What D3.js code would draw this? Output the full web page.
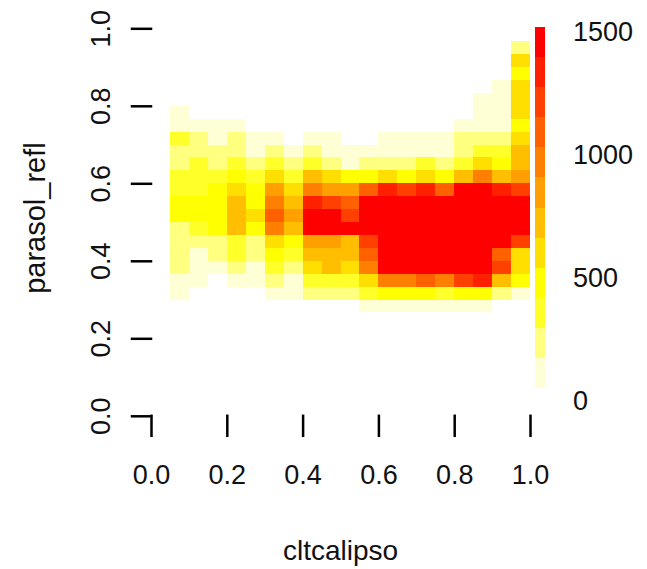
<!DOCTYPE html>
<html><head><meta charset="utf-8">
<script src="https://cdn.jsdelivr.net/npm/d3@7"></script>
<style>
body{margin:0;background:#fff}
svg{display:block}
text{font-family:"Liberation Sans",Arial,Helvetica,sans-serif;fill:#111}
</style>
</head><body>
<svg id="chart" width="647" height="569"></svg>
<script>
// ---- data ----
const xEdges = [0.05,0.10,0.15,0.20,0.25,0.30,0.35,0.40,0.45,0.50,0.55,0.60,0.65,0.70,0.75,0.80,0.85,0.90,0.95,1.00];
const yEdges = [0.2667,0.3,0.3333,0.3667,0.4,0.4333,0.4667,0.5,0.5333,0.5667,0.6,0.6333,0.6667,0.7,0.7333,0.7667,0.8,0.8333,0.8667,0.9,0.9333,0.9667];
const n = null;
// rows listed from the top bin (0.9333-0.9667) down to the bottom bin (0.2667-0.3)
const countsTopDown = [
  [n,n,n,n,n,n,n,n,n,n,n,n,n,n,n,n,n,n,240],
  [n,n,n,n,n,n,n,n,n,n,n,n,n,n,n,n,n,n,600],
  [n,n,n,n,n,n,n,n,n,n,n,n,n,n,n,n,n,n,470],
  [n,n,n,n,n,n,n,n,n,n,n,n,n,n,n,n,n,110,590],
  [n,n,n,n,n,n,n,n,n,n,n,n,n,n,n,n,95,130,615],
  [120,n,n,n,n,n,n,n,n,n,n,n,n,n,n,n,100,145,580],
  [130,125,110,140,n,n,n,n,n,n,n,n,n,n,n,120,150,160,500],
  [350,230,150,250,140,130,n,150,120,n,n,110,130,140,155,220,250,260,630],
  [260,240,230,255,160,270,150,280,165,140,150,160,155,150,170,260,330,340,720],
  [280,370,270,390,270,380,260,400,285,165,250,240,260,360,270,380,610,500,740],
  [360,380,400,470,350,620,390,700,590,450,480,570,500,600,520,720,980,740,860],
  [330,370,480,580,500,840,600,960,870,830,1090,1320,1230,1340,1100,1460,1480,1310,1200],
  [470,490,510,740,460,990,700,1350,1220,1080,1430,1470,1490,1500,1460,1480,1470,1440,1450],
  [480,500,520,760,610,1120,860,1450,1480,1190,1460,1500,1510,1505,1519,1500,1490,1470,1430],
  [260,360,470,720,460,1000,730,1420,1470,1440,1480,1500,1510,1500,1490,1500,1480,1460,1410],
  [230,220,250,340,240,630,480,880,850,720,1210,1460,1490,1480,1470,1460,1450,1420,1190],
  [210,160,240,370,230,510,350,760,740,700,1100,1440,1470,1480,1460,1450,1430,1070,600],
  [200,150,140,250,160,330,230,590,680,610,960,1420,1460,1470,1450,1440,1410,1180,580],
  [120,110,n,140,130,220,150,350,360,340,580,940,1000,1090,970,1230,1300,720,480],
  [100,n,n,n,n,120,140,230,260,240,380,490,510,470,370,460,500,230,130],
  [n,n,n,n,n,n,n,n,n,n,54,130,140,150,135,145,120,n,n]
];
const xTicks = [0,0.2,0.4,0.6,0.8,1.0];
const yTicks = [0,0.2,0.4,0.6,0.8,1.0];
const legendTicks = [0,500,1000,1500];
const palette = ["#FFFFD5","#FFFF80","#FFFF2A","#FFFF00","#FFDF00","#FFBF00","#FF9F00","#FF8000","#FF6000","#FF4000","#FF2000","#FF0000"];
const xTitle = "cltcalipso";
const yTitle = "parasol_refl";

// ---- drawing ----
const svg = d3.select("#chart");
const x = d3.scaleLinear().domain([0,1]).range([151,530]);
const y = d3.scaleLinear().domain([0,1]).range([415.8,28.3]);

const rowsBottomUp = countsTopDown.slice().reverse();
const cells = [];
rowsBottomUp.forEach((row,j)=>row.forEach((v,i)=>{
  if(v!==null) cells.push({x0:xEdges[i],x1:xEdges[i+1],y0:yEdges[j],y1:yEdges[j+1],v});
}));
const allVals = cells.map(d=>d.v);
const zExt = d3.extent(allVals);
const color = d3.scaleQuantize().domain(zExt).range(palette);

svg.append("g").attr("shape-rendering","crispEdges")
  .selectAll("rect").data(cells).join("rect")
  .attr("x",d=>x(d.x0)).attr("width",d=>x(d.x1)-x(d.x0))
  .attr("y",d=>y(d.y1)).attr("height",d=>y(d.y0)-y(d.y1))
  .attr("fill",d=>color(d.v));

// axes
const fmt = d3.format(".1f");
const gx = svg.append("g").attr("transform",`translate(0,${y(0)})`)
  .call(d3.axisBottom(x).tickValues(xTicks).tickFormat(fmt).tickSize(20).tickPadding(29));
gx.select(".domain").remove();
gx.selectAll("line").attr("stroke","#000").attr("stroke-width",2.5).attr("stroke-linecap","square");
gx.selectAll("text").attr("font-size",27).attr("fill","#111");

const gy = svg.append("g").attr("transform",`translate(${x(0)},0)`)
  .call(d3.axisLeft(y).tickValues(yTicks).tickFormat(fmt).tickSize(19));
gy.select(".domain").remove();
gy.selectAll("line").attr("stroke","#000").attr("stroke-width",2.5).attr("stroke-linecap","square");
gy.selectAll("text").attr("x",null).attr("dy",null)
  .attr("transform","translate(-41,0) rotate(-90)")
  .attr("text-anchor","middle").attr("font-size",27).attr("fill","#111");

// titles
svg.append("text").attr("x",(x(0)+x(1))/2).attr("y",560)
  .attr("text-anchor","middle").attr("font-size",28).text(xTitle);
svg.append("text").attr("transform",`translate(45,${(y(0)+y(1))/2 - 4}) rotate(-90)`)
  .attr("text-anchor","middle").attr("font-size",29).text(yTitle);

// colour legend
const yLeg = d3.scaleLinear().domain([0,1500]).range([401,32]);
const step = (zExt[1]-zExt[0])/palette.length;
const legBins = palette.map((c,i)=>({c,lo:zExt[0]+i*step,hi:zExt[0]+(i+1)*step}));
svg.append("g").attr("shape-rendering","crispEdges")
  .selectAll("rect").data(legBins).join("rect")
  .attr("x",535.3).attr("width",10)
  .attr("y",d=>yLeg(d.hi)).attr("height",d=>yLeg(d.lo)-yLeg(d.hi))
  .attr("fill",d=>d.c);
const gl = svg.append("g").attr("transform","translate(545.3,0)")
  .call(d3.axisRight(yLeg).tickValues(legendTicks).tickFormat(d3.format("d")).tickSize(0).tickPadding(27.7));
gl.select(".domain").remove();
gl.selectAll("line").remove();
gl.selectAll("text").attr("font-size",27).attr("fill","#111");
</script>
</body></html>
